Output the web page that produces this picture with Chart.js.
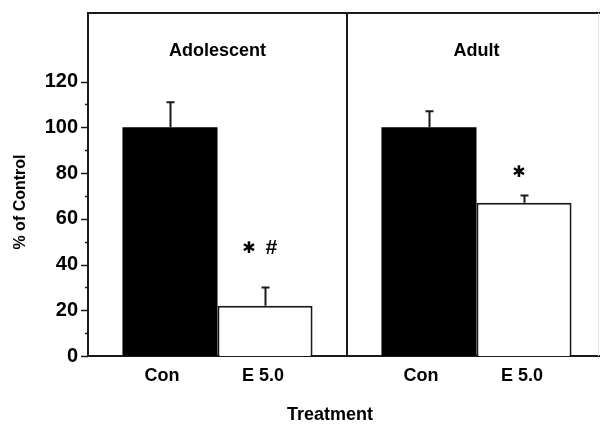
<!DOCTYPE html>
<html>
<head>
<meta charset="utf-8">
<script src="https://cdn.jsdelivr.net/npm/chart.js@4.4.1/dist/chart.umd.min.js"></script>
<style>
  html, body { margin: 0; padding: 0; background: #fff; }
  #wrap { width: 600px; height: 426px; }
</style>
</head>
<body>
<div id="wrap"><canvas id="c" width="600" height="426"></canvas></div>
<script>
// ---- data ----
const groups = ['Adolescent', 'Adult'];
const treatments = ['Con', 'E 5.0'];
const conValues = [100, 100];
const conErrors = [11, 7];
const e5Values = [22, 67];
const e5Errors = [8, 3.2];
const sigMarks = ['✱ #', '✱'];      // marks above the E 5.0 bars
const sigLevels = [47, 80];          // value level at which marks sit
const yTickValues = [0, 10, 20, 30, 40, 50, 60, 70, 80, 90, 100, 110, 120];
const yTickLabels = ['0', '', '20', '', '40', '', '60', '', '80', '', '100', '', '120'];
const yAxisTitle = '% of Control';
const xAxisTitle = 'Treatment';

const INK = '#1a1a1a';
const FONT = '"Liberation Sans", Arial, sans-serif';
const PLOT_RIGHT = 606; // the original figure's frame runs slightly past the image edge

const extendPlugin = {
  id: 'extend',
  afterLayout(chart) {
    const xs = chart.scales.x;
    xs.right = PLOT_RIGHT;
    xs.width = PLOT_RIGHT - xs.left;
    xs.configure();
    chart.chartArea.right = PLOT_RIGHT;
    chart.chartArea.width = PLOT_RIGHT - chart.chartArea.left;
  }
};

const decorPlugin = {
  id: 'decor',
  afterDatasetsDraw(chart) {
    const ctx = chart.ctx;
    const area = chart.chartArea;
    const ys = chart.scales.y;
    const xs = chart.scales.x;
    ctx.save();
    // top frame
    ctx.strokeStyle = INK;
    ctx.lineWidth = 2;
    ctx.beginPath();
    ctx.moveTo(area.left - 1, area.top);
    ctx.lineTo(600, area.top);
    ctx.stroke();
    // faint right edge
    ctx.strokeStyle = '#e2e2e2';
    ctx.lineWidth = 1;
    ctx.beginPath();
    ctx.moveTo(598.5, area.top);
    ctx.lineTo(598.5, area.bottom);
    ctx.stroke();
    ctx.strokeStyle = INK;
    // y tick marks
    ctx.lineWidth = 1.5;
    yTickValues.forEach((v, i) => {
      const y = Math.round(ys.getPixelForValue(v)) + 0.5;
      const len = yTickLabels[i] !== '' ? 7 : 3;
      ctx.beginPath();
      ctx.moveTo(area.left - len, y);
      ctx.lineTo(area.left, y);
      ctx.stroke();
    });
    // error bars
    const errs = [conErrors, e5Errors];
    const vals = [conValues, e5Values];
    ctx.lineWidth = 2;
    [0, 1].forEach(di => {
      const meta = chart.getDatasetMeta(di);
      meta.data.forEach((el, j) => {
        const yTop = ys.getPixelForValue(vals[di][j] + errs[di][j]);
        const x = Math.round(el.x) + 0.5;
        ctx.beginPath();
        ctx.moveTo(x, el.y);
        ctx.lineTo(x, yTop);
        ctx.moveTo(x - 4, yTop);
        ctx.lineTo(x + 4, yTop);
        ctx.stroke();
      });
    });
    // treatment labels under bars
    ctx.fillStyle = '#000';
    ctx.textAlign = 'center';
    ctx.textBaseline = 'middle';
    ctx.font = '700 18px ' + FONT;
    [0, 1].forEach(di => {
      const meta = chart.getDatasetMeta(di);
      meta.data.forEach(el => {
        ctx.fillText(treatments[di], el.x - (di === 0 ? 8 : 2), area.bottom + 20);
      });
    });
    // group titles
    groups.forEach((g, j) => {
      ctx.fillText(g, xs.getPixelForValue(j), area.top + 38);
    });
    // significance marks above E 5.0 bars
    const meta1 = chart.getDatasetMeta(1);
    meta1.data.forEach((el, j) => {
      const tokens = sigMarks[j].split(' ');
      const y = ys.getPixelForValue(sigLevels[j]);
      const gap = 22;
      const start = el.x - 5 - (tokens.length - 1) * gap / 2;
      tokens.forEach((t, k) => {
        if (t === '✱') ctx.font = '700 16px "DejaVu Sans", sans-serif';
        else ctx.font = 'italic 700 21px ' + FONT;
        ctx.fillText(t, start + k * gap, y);
      });
    });
    // axis titles
    ctx.font = '700 18px ' + FONT;
    ctx.fillText(xAxisTitle, 330, 415);
    ctx.save();
    ctx.translate(21, 202);
    ctx.rotate(-Math.PI / 2);
    ctx.font = '700 16px ' + FONT;
    ctx.fillText(yAxisTitle, 0, 0);
    ctx.restore();
    ctx.restore();
  }
};

new Chart(document.getElementById('c'), {
  type: 'bar',
  data: {
    labels: groups,
    datasets: [
      { label: treatments[0], data: conValues, backgroundColor: '#000', borderColor: '#000', borderWidth: 0,
        categoryPercentage: 0.734, barPercentage: 1 },
      { label: treatments[1], data: e5Values, backgroundColor: '#fff', borderColor: INK, borderWidth: 2,
        borderSkipped: 'bottom', categoryPercentage: 0.734, barPercentage: 1 }
    ]
  },
  options: {
    responsive: false,
    devicePixelRatio: 1,
    animation: false,
    layout: { padding: { top: 13, left: 0, right: 0, bottom: 0 } },
    plugins: { legend: { display: false }, tooltip: { enabled: false }, title: { display: false } },
    scales: {
      x: {
        type: 'category',
        grid: {
          display: true, offset: true, drawTicks: false,
          color: c => c.index === 1 ? INK : 'transparent',
          lineWidth: 2
        },
        border: { display: true, color: INK, width: 2 },
        ticks: { display: false },
        afterFit: s => { s.height = 70; }
      },
      y: {
        min: 0, max: 150,
        afterBuildTicks: s => { s.ticks = yTickValues.map(v => ({ value: v })); },
        grid: { display: false, drawTicks: false },
        border: { display: true, color: INK, width: 2 },
        ticks: {
          padding: 10,
          color: '#000',
          font: { family: FONT, size: 20, weight: '700' },
          callback: (v, i) => yTickLabels[i]
        },
        afterFit: s => { s.width = 88; s.paddingTop = 0; s.paddingBottom = 0; }
      }
    }
  },
  plugins: [extendPlugin, decorPlugin]
});
</script>
</body>
</html>
